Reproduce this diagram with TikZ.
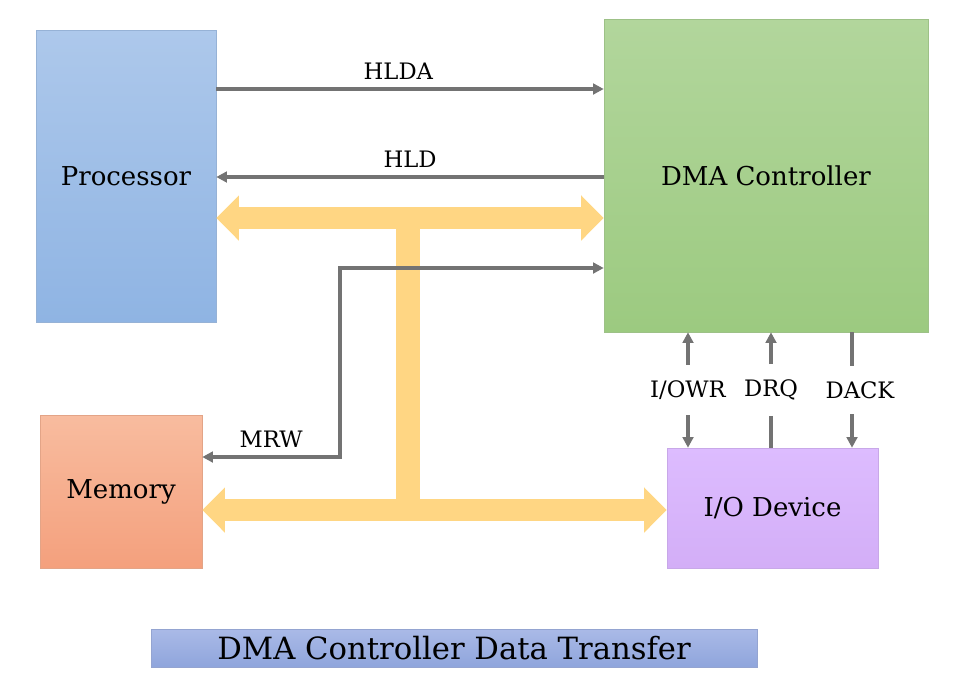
\documentclass[tikz,border=0pt]{standalone}
\usepackage{xcolor}
\usepackage{fontspec}
\setmainfont{DejaVu Serif}
\usepackage{tikz}
\usetikzlibrary{positioning,arrows.meta,calc}

\definecolor{procTop}{HTML}{ADC8EB}
\definecolor{procBot}{HTML}{8FB4E3}
\definecolor{dmaTop}{HTML}{B2D69C}
\definecolor{dmaBot}{HTML}{9CCA80}
\definecolor{memTop}{HTML}{F8BC9F}
\definecolor{memBot}{HTML}{F4A07D}
\definecolor{ioTop}{HTML}{DDBCFF}
\definecolor{ioBot}{HTML}{D3AEF7}
\definecolor{ttlTop}{HTML}{AABAE7}
\definecolor{ttlBot}{HTML}{8FA5DC}
\definecolor{busCol}{HTML}{FFD683}
\definecolor{sigCol}{HTML}{737373}

\begin{document}
\begin{tikzpicture}[x=0.75pt,y=-0.75pt,
  box/.style={rectangle, inner sep=0pt, font=\fontsize{19.5}{22}\selectfont},
  sig/.style={draw=sigCol, line width=2.3pt, arrows={-Triangle[length=8pt,width=8pt]}},
  sigline/.style={draw=sigCol, line width=2.3pt},
  lbl/.style={font=\fontsize{17}{19}\selectfont, inner sep=1pt},
  bus/.style={draw=busCol, line width=17pt,
    arrows={Triangle[length=17pt,width=33pt]-Triangle[length=17pt,width=33pt]}},
  busbar/.style={draw=busCol, line width=18pt}]
  \useasboundingbox (0,0) rectangle (954,687);

  \node[box, top color=procTop, bottom color=procBot, draw=procBot!80!black!40!procTop,
    minimum width=135pt, minimum height=219pt] (proc) at (126,176) {Processor};
  \node[box, top color=dmaTop, bottom color=dmaBot, draw=dmaBot!80!black!40!dmaTop,
    minimum width=243pt, minimum height=234.75pt] (dma) at (766,175.5) {DMA Controller};
  \node[box, top color=memTop, bottom color=memBot, draw=memBot!80!black!40!memTop,
    minimum width=121.5pt, minimum height=114.75pt] (mem) at (121,491.5) {Memory};
  \node[box, top color=ioTop, bottom color=ioBot, draw=ioBot!80!black!40!ioTop,
    minimum width=158.25pt, minimum height=90pt] (io) at (772.5,508) {I/O Device};
  \node[box, top color=ttlTop, bottom color=ttlBot, draw=ttlBot!80!black!40!ttlTop,
    minimum width=454.5pt, minimum height=28.5pt,
    font=\fontsize{23}{26}\selectfont] (title) at (454,648) {DMA Controller Data Transfer};

  \coordinate (bustop) at (408,218);
  \coordinate (busbot) at (408,510);
  \draw[busbar] (bustop) -- (busbot);
  \draw[bus] (bustop -| proc.east) -- (bustop -| dma.west);
  \draw[bus] (busbot -| mem.east) -- (busbot -| io.west);

  \draw[sig] (proc.east |- 0,89) -- (dma.west |- 0,89)
    node[lbl, pos=0.47, above=5pt] {HLDA};
  \draw[sig] (dma.west |- 0,177) -- (proc.east |- 0,177)
    node[lbl, pos=0.5, above=5pt] {HLD};

  \coordinate (mrwbend) at (340,457);
  \draw[sig, arrows={Triangle[length=8pt,width=8pt]-Triangle[length=8pt,width=8pt]}]
    (mrwbend -| mem.east) -- node[lbl, above=5pt] {MRW} (mrwbend) |- (dma.west |- 0,268);

  \node[lbl, inner ysep=11.5pt] (iowr) at (688,390) {I/OWR};
  \node[lbl, inner ysep=11.5pt] (drq) at (771,390) {DRQ};
  \node[lbl, inner ysep=11.5pt] (dack) at (860,390) {DACK};

  \draw[sig] (iowr.north) -- (iowr.north |- dma.south);
  \draw[sig] (iowr.south) -- (iowr.south |- io.north);
  \draw[sig] (drq.north) -- (drq.north |- dma.south);
  \draw[sigline] (drq.south) -- (drq.south |- io.north);
  \draw[sigline] ([xshift=-6pt]dack.north) -- ([xshift=-6pt]dack.north |- dma.south);
  \draw[sig] ([xshift=-6pt]dack.south) -- ([xshift=-6pt]dack.south |- io.north);
\end{tikzpicture}
\end{document}
